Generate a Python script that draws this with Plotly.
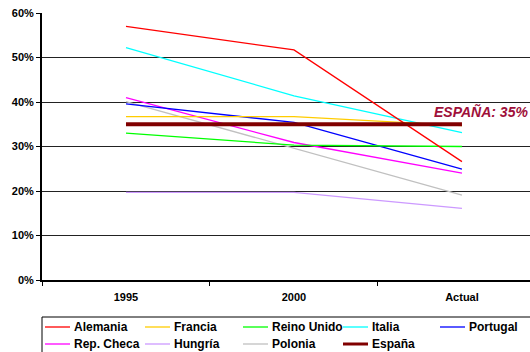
import plotly.graph_objects as go

categories = ["1995", "2000", "Actual"]
series_names = ["Alemania", "Francia", "Reino Unido", "Italia", "Portugal",
                "Rep. Checa", "Hungría", "Polonia", "España"]
alemania = [0.570, 0.517, 0.266]
francia = [0.367, 0.367, 0.347]
reino_unido = [0.330, 0.303, 0.300]
italia = [0.522, 0.414, 0.331]
portugal = [0.396, 0.354, 0.249]
rep_checa = [0.410, 0.309, 0.240]
hungria = [0.197, 0.197, 0.161]
polonia = [0.401, 0.296, 0.191]
espana = [0.350, 0.350, 0.350]
y_ticks = [0, 0.1, 0.2, 0.3, 0.4, 0.5, 0.6]

values = [alemania, francia, reino_unido, italia, portugal,
          rep_checa, hungria, polonia, espana]
colors = ["#FF0000", "#FFCC00", "#00FF00", "#00FFFF", "#0000FF",
          "#FF00FF", "#CC99FF", "#C0C0C0", "#800000"]
widths = [1.3] * 8 + [4]

FONT = "Arial, Liberation Sans, sans-serif"
W, H = 530, 352
ML, MT, MB = 42, 13, 72
PW, PH = W - ML, H - MT - MB

def px_x(x):
    return (x - ML) / PW

def px_y(y):
    return (H - MB - y) / PH

fig = go.Figure()
order = [7, 6, 5, 4, 3, 2, 1, 0, 8]
for i in order:
    fig.add_trace(go.Scatter(
        x=categories, y=values[i], name=series_names[i], mode="lines",
        line=dict(color=colors[i], width=widths[i]), showlegend=False,
        hoverinfo="skip",
    ))

fig.add_annotation(
    x=1, y=espana[2], xref="paper", yref="y", text="<b><i>ESPAÑA: 35%</i></b>",
    showarrow=False, xanchor="right", yanchor="bottom", xshift=0, yshift=2,
    font=dict(family=FONT, size=14, color="#A0103A"),
)

# manual legend (box, swatches, labels)
fig.add_shape(type="rect", xref="paper", yref="paper",
              x0=px_x(42), x1=px_x(545), y0=px_y(317), y1=px_y(362),
              line=dict(color="black", width=1), fillcolor="white", layer="above")
col_x = [45, 145, 243, 343, 440]
row_y = [327, 344]
for i, name in enumerate(series_names):
    r, c = divmod(i, 5)
    x0 = col_x[c]
    y = row_y[r]
    fig.add_shape(type="line", xref="paper", yref="paper",
                  x0=px_x(x0), x1=px_x(x0 + 25), y0=px_y(y), y1=px_y(y),
                  line=dict(color=colors[i], width=3 if i == 8 else 1.3),
                  layer="above")
    fig.add_annotation(x=px_x(x0 + 27), y=px_y(y), xref="paper", yref="paper",
                       text="<b>" + name + "</b>", showarrow=False,
                       xanchor="left", yanchor="middle",
                       font=dict(family=FONT, size=12, color="black"))

fig.update_layout(
    width=W, height=H,
    margin=dict(l=ML, r=0, t=MT, b=MB),
    paper_bgcolor="white", plot_bgcolor="white",
    font=dict(family=FONT, size=11, color="black"),
    showlegend=False,
    xaxis=dict(
        type="category", range=[-0.5, 2.405], tickson="boundaries",
        ticks="outside", ticklen=4, tickcolor="black",
        showline=True, linecolor="black", linewidth=2,
        showgrid=False, ticklabelstandoff=6,
        tickfont=dict(family=FONT, size=11, color="black", weight="bold"),
    ),
    yaxis=dict(
        range=[0, 0.6], tickvals=y_ticks, tickformat=".0%",
        ticks="outside", ticklen=4, tickcolor="black",
        showline=True, linecolor="black", linewidth=2,
        showgrid=True, gridcolor="#222222", gridwidth=1,
        zeroline=False,
        tickfont=dict(family=FONT, size=11, color="black", weight="bold"),
    ),
)

fig.write_html(
    "out.html",
    config={"displayModeBar": False},
    post_script="document.body.style.margin='0';document.body.style.overflow='hidden';",
)
